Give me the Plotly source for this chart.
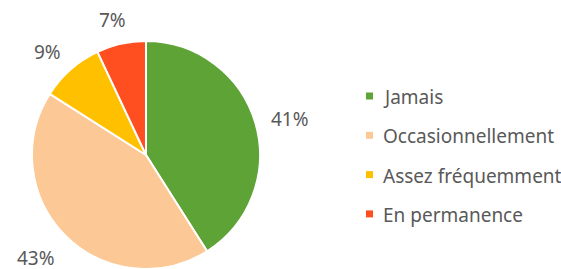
import math
import plotly.graph_objects as go

categories = ["Jamais", "Occasionnellement", "Assez fréquemment", "En permanence"]
values = [41, 43, 9, 7]
colors = ["#5EA336", "#FCC896", "#FFC000", "#FF4E1F"]

W, H = 561, 269
cx, cy, R = 146, 155, 114  # pixel geometry of the pie
dom_x = [(cx - R) / W, (cx + R) / W]
dom_y = [1 - (cy + R) / H, 1 - (cy - R) / H]

fig = go.Figure()
fig.add_trace(go.Pie(
    labels=categories, values=values, sort=False, direction="clockwise",
    rotation=0, marker=dict(colors=colors, line=dict(color="white", width=2)),
    textinfo="none", hoverinfo="label+percent", showlegend=False,
    domain=dict(x=dom_x, y=dom_y),
))

# outside percentage labels placed from data angles (box placed outside edge)
total = sum(values)
cum = 0
gap = 19
for v in values:
    mid = (cum + v / 2) / total * 2 * math.pi
    cum += v
    txt = f"{round(v / total * 100)}%"
    tw, th = 13 * len(txt), 16
    ux, uy = math.sin(mid), -math.cos(mid)
    px = cx + (R + gap) * ux + ux * tw / 2 - 2
    py = cy + (R + gap) * uy + uy * th / 2 + 3
    fig.add_annotation(
        x=px / W, y=1 - py / H, xref="paper", yref="paper",
        text=txt, showarrow=False,
        xanchor="center", yanchor="middle",
        font=dict(size=19, color="#595959", family="Noto Sans"),
    )

# custom legend (squares + labels)
leg_x, leg_y0, leg_dy, sq = 366, 96, 39.3, 7
for i, (c, col) in enumerate(zip(categories, colors)):
    yc = leg_y0 + i * leg_dy
    fig.add_shape(
        type="rect", xref="paper", yref="paper",
        x0=leg_x / W, x1=(leg_x + sq) / W,
        y0=1 - (yc + sq / 2) / H, y1=1 - (yc - sq / 2) / H,
        fillcolor=col, line=dict(width=0),
    )
    fig.add_annotation(
        x=(leg_x + sq + 8) / W, y=1 - (yc + 1) / H, xref="paper", yref="paper",
        text=c, showarrow=False, xanchor="left", yanchor="middle",
        font=dict(size=19, color="#595959", family="Noto Sans"),
    )

fig.update_layout(
    width=W, height=H, margin=dict(l=0, r=0, t=0, b=0),
    paper_bgcolor="white", plot_bgcolor="white", showlegend=False,
    xaxis=dict(visible=False), yaxis=dict(visible=False),
    font=dict(family="Noto Sans", color="#595959", size=19),
)
fig.write_html("out.html", config={"displayModeBar": False},
               post_script="document.body.style.margin='0px';")
